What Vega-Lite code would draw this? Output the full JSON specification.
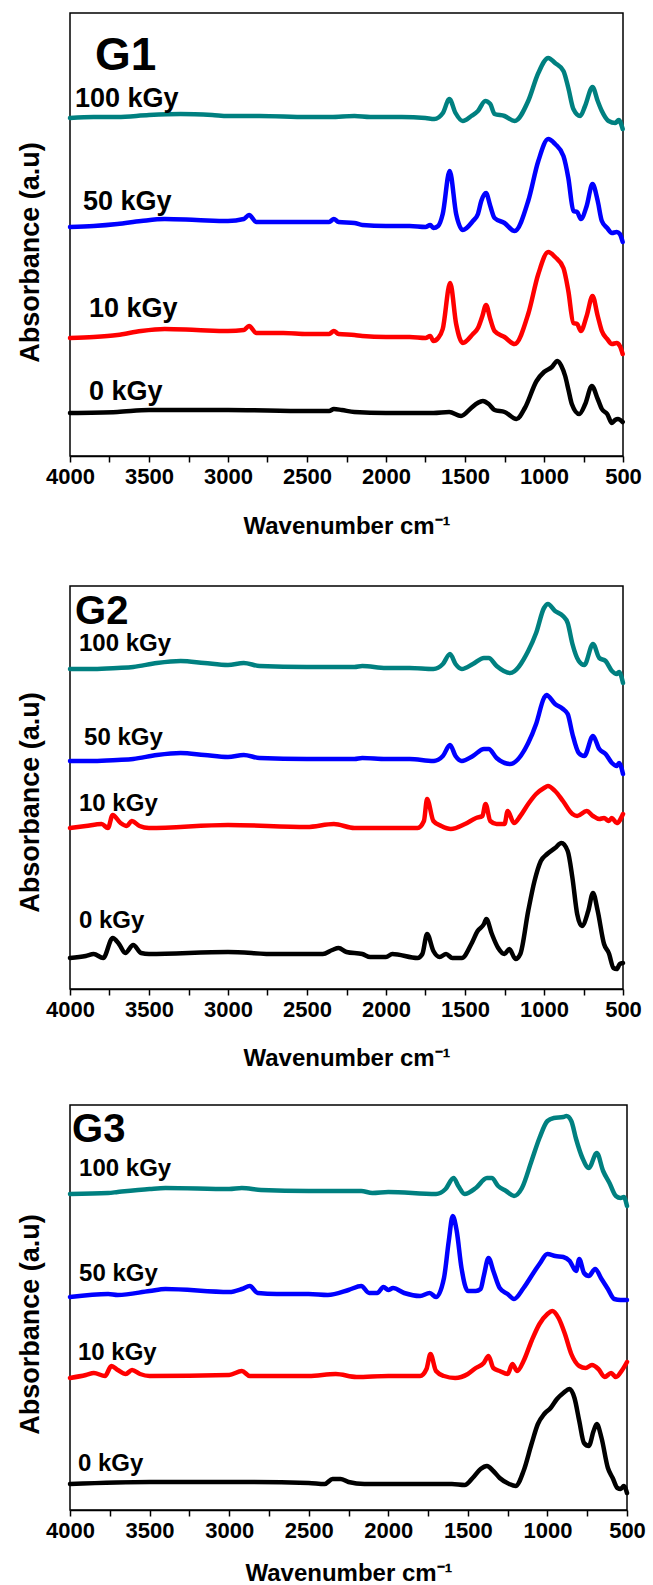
{
 "$schema": "https://vega.github.io/schema/vega-lite/v6.json",
 "padding": {"left": 15, "top": 12, "right": 5, "bottom": 0},
 "config": {
  "view": {"stroke": "black", "strokeWidth": 1.5},
  "font": "Liberation Sans",
  "axis": {"grid": false, "domainColor": "black", "tickColor": "black", "labelColor": "black", "titleColor": "black"}
 },
 "datasets": {
  "p1": [
   {"dose":"100 kGy","wn":4000,"abs":3.38},{"dose":"100 kGy","wn":3850,"abs":3.39},{"dose":"100 kGy","wn":3700,"abs":3.39},{"dose":"100 kGy","wn":3500,"abs":3.41},{"dose":"100 kGy","wn":3300,"abs":3.42},{"dose":"100 kGy","wn":3100,"abs":3.41},{"dose":"100 kGy","wn":3000,"abs":3.40},{"dose":"100 kGy","wn":2800,"abs":3.40},{"dose":"100 kGy","wn":2500,"abs":3.39},{"dose":"100 kGy","wn":2350,"abs":3.39},{"dose":"100 kGy","wn":2200,"abs":3.40},{"dose":"100 kGy","wn":2100,"abs":3.39},{"dose":"100 kGy","wn":2000,"abs":3.39},{"dose":"100 kGy","wn":1900,"abs":3.39},{"dose":"100 kGy","wn":1750,"abs":3.38},{"dose":"100 kGy","wn":1694,"abs":3.37},{"dose":"100 kGy","wn":1640,"abs":3.43},{"dose":"100 kGy","wn":1599,"abs":3.57},{"dose":"100 kGy","wn":1560,"abs":3.43},{"dose":"100 kGy","wn":1514,"abs":3.35},{"dose":"100 kGy","wn":1460,"abs":3.40},{"dose":"100 kGy","wn":1418,"abs":3.45},{"dose":"100 kGy","wn":1372,"abs":3.55},{"dose":"100 kGy","wn":1340,"abs":3.52},{"dose":"100 kGy","wn":1313,"abs":3.42},{"dose":"100 kGy","wn":1250,"abs":3.40},{"dose":"100 kGy","wn":1186,"abs":3.35},{"dose":"100 kGy","wn":1100,"abs":3.55},{"dose":"100 kGy","wn":1036,"abs":3.83},{"dose":"100 kGy","wn":973,"abs":3.98},{"dose":"100 kGy","wn":930,"abs":3.93},{"dose":"100 kGy","wn":877,"abs":3.85},{"dose":"100 kGy","wn":846,"abs":3.68},{"dose":"100 kGy","wn":814,"abs":3.47},{"dose":"100 kGy","wn":771,"abs":3.40},{"dose":"100 kGy","wn":740,"abs":3.50},{"dose":"100 kGy","wn":693,"abs":3.69},{"dose":"100 kGy","wn":660,"abs":3.55},{"dose":"100 kGy","wn":634,"abs":3.45},{"dose":"100 kGy","wn":591,"abs":3.35},{"dose":"100 kGy","wn":549,"abs":3.33},{"dose":"100 kGy","wn":527,"abs":3.36},{"dose":"100 kGy","wn":502,"abs":3.27},
   {"dose":"50 kGy","wn":4000,"abs":2.29},{"dose":"50 kGy","wn":3850,"abs":2.30},{"dose":"50 kGy","wn":3700,"abs":2.32},{"dose":"50 kGy","wn":3550,"abs":2.35},{"dose":"50 kGy","wn":3400,"abs":2.37},{"dose":"50 kGy","wn":3200,"abs":2.36},{"dose":"50 kGy","wn":3000,"abs":2.35},{"dose":"50 kGy","wn":2900,"abs":2.37},{"dose":"50 kGy","wn":2867,"abs":2.41},{"dose":"50 kGy","wn":2820,"abs":2.34},{"dose":"50 kGy","wn":2650,"abs":2.34},{"dose":"50 kGy","wn":2500,"abs":2.34},{"dose":"50 kGy","wn":2360,"abs":2.34},{"dose":"50 kGy","wn":2330,"abs":2.37},{"dose":"50 kGy","wn":2300,"abs":2.34},{"dose":"50 kGy","wn":2200,"abs":2.33},{"dose":"50 kGy","wn":2150,"abs":2.31},{"dose":"50 kGy","wn":2000,"abs":2.30},{"dose":"50 kGy","wn":1850,"abs":2.30},{"dose":"50 kGy","wn":1750,"abs":2.29},{"dose":"50 kGy","wn":1720,"abs":2.31},{"dose":"50 kGy","wn":1700,"abs":2.28},{"dose":"50 kGy","wn":1670,"abs":2.30},{"dose":"50 kGy","wn":1641,"abs":2.42},{"dose":"50 kGy","wn":1597,"abs":2.85},{"dose":"50 kGy","wn":1556,"abs":2.42},{"dose":"50 kGy","wn":1514,"abs":2.26},{"dose":"50 kGy","wn":1450,"abs":2.35},{"dose":"50 kGy","wn":1418,"abs":2.42},{"dose":"50 kGy","wn":1397,"abs":2.55},{"dose":"50 kGy","wn":1367,"abs":2.63},{"dose":"50 kGy","wn":1340,"abs":2.50},{"dose":"50 kGy","wn":1313,"abs":2.38},{"dose":"50 kGy","wn":1250,"abs":2.33},{"dose":"50 kGy","wn":1186,"abs":2.25},{"dose":"50 kGy","wn":1100,"abs":2.55},{"dose":"50 kGy","wn":1036,"abs":2.95},{"dose":"50 kGy","wn":973,"abs":3.17},{"dose":"50 kGy","wn":930,"abs":3.12},{"dose":"50 kGy","wn":877,"abs":3.00},{"dose":"50 kGy","wn":846,"abs":2.78},{"dose":"50 kGy","wn":814,"abs":2.45},{"dose":"50 kGy","wn":790,"abs":2.44},{"dose":"50 kGy","wn":767,"abs":2.37},{"dose":"50 kGy","wn":730,"abs":2.50},{"dose":"50 kGy","wn":693,"abs":2.72},{"dose":"50 kGy","wn":660,"abs":2.55},{"dose":"50 kGy","wn":634,"abs":2.35},{"dose":"50 kGy","wn":600,"abs":2.28},{"dose":"50 kGy","wn":570,"abs":2.23},{"dose":"50 kGy","wn":540,"abs":2.24},{"dose":"50 kGy","wn":520,"abs":2.22},{"dose":"50 kGy","wn":502,"abs":2.14},
   {"dose":"10 kGy","wn":4000,"abs":1.18},{"dose":"10 kGy","wn":3850,"abs":1.19},{"dose":"10 kGy","wn":3700,"abs":1.21},{"dose":"10 kGy","wn":3550,"abs":1.25},{"dose":"10 kGy","wn":3400,"abs":1.27},{"dose":"10 kGy","wn":3200,"abs":1.26},{"dose":"10 kGy","wn":3000,"abs":1.25},{"dose":"10 kGy","wn":2900,"abs":1.26},{"dose":"10 kGy","wn":2867,"abs":1.30},{"dose":"10 kGy","wn":2820,"abs":1.23},{"dose":"10 kGy","wn":2650,"abs":1.23},{"dose":"10 kGy","wn":2500,"abs":1.22},{"dose":"10 kGy","wn":2360,"abs":1.22},{"dose":"10 kGy","wn":2330,"abs":1.25},{"dose":"10 kGy","wn":2300,"abs":1.22},{"dose":"10 kGy","wn":2200,"abs":1.21},{"dose":"10 kGy","wn":2150,"abs":1.20},{"dose":"10 kGy","wn":2000,"abs":1.19},{"dose":"10 kGy","wn":1850,"abs":1.19},{"dose":"10 kGy","wn":1750,"abs":1.18},{"dose":"10 kGy","wn":1720,"abs":1.20},{"dose":"10 kGy","wn":1700,"abs":1.15},{"dose":"10 kGy","wn":1670,"abs":1.18},{"dose":"10 kGy","wn":1641,"abs":1.27},{"dose":"10 kGy","wn":1594,"abs":1.73},{"dose":"10 kGy","wn":1556,"abs":1.32},{"dose":"10 kGy","wn":1514,"abs":1.13},{"dose":"10 kGy","wn":1450,"abs":1.22},{"dose":"10 kGy","wn":1418,"abs":1.28},{"dose":"10 kGy","wn":1390,"abs":1.40},{"dose":"10 kGy","wn":1367,"abs":1.51},{"dose":"10 kGy","wn":1340,"abs":1.37},{"dose":"10 kGy","wn":1313,"abs":1.25},{"dose":"10 kGy","wn":1250,"abs":1.19},{"dose":"10 kGy","wn":1186,"abs":1.12},{"dose":"10 kGy","wn":1100,"abs":1.42},{"dose":"10 kGy","wn":1036,"abs":1.82},{"dose":"10 kGy","wn":973,"abs":2.04},{"dose":"10 kGy","wn":930,"abs":1.99},{"dose":"10 kGy","wn":877,"abs":1.88},{"dose":"10 kGy","wn":846,"abs":1.65},{"dose":"10 kGy","wn":814,"abs":1.33},{"dose":"10 kGy","wn":790,"abs":1.32},{"dose":"10 kGy","wn":767,"abs":1.25},{"dose":"10 kGy","wn":730,"abs":1.40},{"dose":"10 kGy","wn":693,"abs":1.60},{"dose":"10 kGy","wn":660,"abs":1.40},{"dose":"10 kGy","wn":634,"abs":1.25},{"dose":"10 kGy","wn":600,"abs":1.17},{"dose":"10 kGy","wn":570,"abs":1.12},{"dose":"10 kGy","wn":540,"abs":1.13},{"dose":"10 kGy","wn":520,"abs":1.10},{"dose":"10 kGy","wn":502,"abs":1.02},
   {"dose":"0 kGy","wn":4000,"abs":0.43},{"dose":"0 kGy","wn":3700,"abs":0.44},{"dose":"0 kGy","wn":3500,"abs":0.46},{"dose":"0 kGy","wn":3000,"abs":0.46},{"dose":"0 kGy","wn":2500,"abs":0.45},{"dose":"0 kGy","wn":2360,"abs":0.45},{"dose":"0 kGy","wn":2330,"abs":0.47},{"dose":"0 kGy","wn":2280,"abs":0.46},{"dose":"0 kGy","wn":2200,"abs":0.44},{"dose":"0 kGy","wn":2000,"abs":0.43},{"dose":"0 kGy","wn":1800,"abs":0.43},{"dose":"0 kGy","wn":1700,"abs":0.43},{"dose":"0 kGy","wn":1600,"abs":0.44},{"dose":"0 kGy","wn":1525,"abs":0.40},{"dose":"0 kGy","wn":1461,"abs":0.48},{"dose":"0 kGy","wn":1420,"abs":0.53},{"dose":"0 kGy","wn":1387,"abs":0.55},{"dose":"0 kGy","wn":1350,"abs":0.52},{"dose":"0 kGy","wn":1313,"abs":0.46},{"dose":"0 kGy","wn":1249,"abs":0.44},{"dose":"0 kGy","wn":1174,"abs":0.37},{"dose":"0 kGy","wn":1121,"abs":0.48},{"dose":"0 kGy","wn":1047,"abs":0.75},{"dose":"0 kGy","wn":1000,"abs":0.84},{"dose":"0 kGy","wn":950,"abs":0.89},{"dose":"0 kGy","wn":915,"abs":0.95},{"dose":"0 kGy","wn":890,"abs":0.90},{"dose":"0 kGy","wn":866,"abs":0.80},{"dose":"0 kGy","wn":845,"abs":0.66},{"dose":"0 kGy","wn":824,"abs":0.52},{"dose":"0 kGy","wn":777,"abs":0.42},{"dose":"0 kGy","wn":739,"abs":0.52},{"dose":"0 kGy","wn":697,"abs":0.70},{"dose":"0 kGy","wn":660,"abs":0.57},{"dose":"0 kGy","wn":634,"abs":0.47},{"dose":"0 kGy","wn":600,"abs":0.42},{"dose":"0 kGy","wn":570,"abs":0.33},{"dose":"0 kGy","wn":550,"abs":0.36},{"dose":"0 kGy","wn":532,"abs":0.37},{"dose":"0 kGy","wn":502,"abs":0.34}
  ],
  "p2": [
   {"dose":"100 kGy","wn":4000,"abs":3.20},{"dose":"100 kGy","wn":3850,"abs":3.20},{"dose":"100 kGy","wn":3700,"abs":3.21},{"dose":"100 kGy","wn":3600,"abs":3.22},{"dose":"100 kGy","wn":3450,"abs":3.26},{"dose":"100 kGy","wn":3300,"abs":3.28},{"dose":"100 kGy","wn":3150,"abs":3.26},{"dose":"100 kGy","wn":3000,"abs":3.24},{"dose":"100 kGy","wn":2900,"abs":3.26},{"dose":"100 kGy","wn":2800,"abs":3.23},{"dose":"100 kGy","wn":2500,"abs":3.22},{"dose":"100 kGy","wn":2200,"abs":3.22},{"dose":"100 kGy","wn":2150,"abs":3.23},{"dose":"100 kGy","wn":2000,"abs":3.21},{"dose":"100 kGy","wn":1850,"abs":3.21},{"dose":"100 kGy","wn":1700,"abs":3.20},{"dose":"100 kGy","wn":1640,"abs":3.25},{"dose":"100 kGy","wn":1595,"abs":3.35},{"dose":"100 kGy","wn":1560,"abs":3.25},{"dose":"100 kGy","wn":1520,"abs":3.20},{"dose":"100 kGy","wn":1450,"abs":3.25},{"dose":"100 kGy","wn":1380,"abs":3.31},{"dose":"100 kGy","wn":1350,"abs":3.31},{"dose":"100 kGy","wn":1300,"abs":3.23},{"dose":"100 kGy","wn":1215,"abs":3.16},{"dose":"100 kGy","wn":1100,"abs":3.38},{"dose":"100 kGy","wn":1050,"abs":3.56},{"dose":"100 kGy","wn":1000,"abs":3.81},{"dose":"100 kGy","wn":975,"abs":3.85},{"dose":"100 kGy","wn":930,"abs":3.78},{"dose":"100 kGy","wn":880,"abs":3.73},{"dose":"100 kGy","wn":850,"abs":3.66},{"dose":"100 kGy","wn":820,"abs":3.45},{"dose":"100 kGy","wn":780,"abs":3.28},{"dose":"100 kGy","wn":745,"abs":3.24},{"dose":"100 kGy","wn":690,"abs":3.45},{"dose":"100 kGy","wn":650,"abs":3.31},{"dose":"100 kGy","wn":610,"abs":3.28},{"dose":"100 kGy","wn":570,"abs":3.18},{"dose":"100 kGy","wn":540,"abs":3.15},{"dose":"100 kGy","wn":525,"abs":3.17},{"dose":"100 kGy","wn":500,"abs":3.06},
   {"dose":"50 kGy","wn":4000,"abs":2.28},{"dose":"50 kGy","wn":3850,"abs":2.28},{"dose":"50 kGy","wn":3700,"abs":2.29},{"dose":"50 kGy","wn":3600,"abs":2.30},{"dose":"50 kGy","wn":3450,"abs":2.34},{"dose":"50 kGy","wn":3300,"abs":2.36},{"dose":"50 kGy","wn":3150,"abs":2.34},{"dose":"50 kGy","wn":3000,"abs":2.32},{"dose":"50 kGy","wn":2900,"abs":2.34},{"dose":"50 kGy","wn":2800,"abs":2.31},{"dose":"50 kGy","wn":2500,"abs":2.30},{"dose":"50 kGy","wn":2200,"abs":2.30},{"dose":"50 kGy","wn":2150,"abs":2.31},{"dose":"50 kGy","wn":2000,"abs":2.30},{"dose":"50 kGy","wn":1850,"abs":2.30},{"dose":"50 kGy","wn":1700,"abs":2.28},{"dose":"50 kGy","wn":1640,"abs":2.33},{"dose":"50 kGy","wn":1595,"abs":2.44},{"dose":"50 kGy","wn":1560,"abs":2.33},{"dose":"50 kGy","wn":1520,"abs":2.28},{"dose":"50 kGy","wn":1450,"abs":2.33},{"dose":"50 kGy","wn":1380,"abs":2.40},{"dose":"50 kGy","wn":1350,"abs":2.40},{"dose":"50 kGy","wn":1300,"abs":2.31},{"dose":"50 kGy","wn":1215,"abs":2.25},{"dose":"50 kGy","wn":1100,"abs":2.46},{"dose":"50 kGy","wn":1050,"abs":2.65},{"dose":"50 kGy","wn":1000,"abs":2.91},{"dose":"50 kGy","wn":985,"abs":2.94},{"dose":"50 kGy","wn":930,"abs":2.85},{"dose":"50 kGy","wn":880,"abs":2.80},{"dose":"50 kGy","wn":850,"abs":2.75},{"dose":"50 kGy","wn":820,"abs":2.55},{"dose":"50 kGy","wn":780,"abs":2.36},{"dose":"50 kGy","wn":745,"abs":2.33},{"dose":"50 kGy","wn":690,"abs":2.53},{"dose":"50 kGy","wn":650,"abs":2.40},{"dose":"50 kGy","wn":610,"abs":2.35},{"dose":"50 kGy","wn":570,"abs":2.26},{"dose":"50 kGy","wn":540,"abs":2.23},{"dose":"50 kGy","wn":525,"abs":2.26},{"dose":"50 kGy","wn":500,"abs":2.15},
   {"dose":"10 kGy","wn":4000,"abs":1.61},{"dose":"10 kGy","wn":3900,"abs":1.63},{"dose":"10 kGy","wn":3800,"abs":1.65},{"dose":"10 kGy","wn":3760,"abs":1.61},{"dose":"10 kGy","wn":3730,"abs":1.74},{"dose":"10 kGy","wn":3680,"abs":1.66},{"dose":"10 kGy","wn":3640,"abs":1.63},{"dose":"10 kGy","wn":3610,"abs":1.68},{"dose":"10 kGy","wn":3560,"abs":1.63},{"dose":"10 kGy","wn":3500,"abs":1.61},{"dose":"10 kGy","wn":3000,"abs":1.64},{"dose":"10 kGy","wn":2500,"abs":1.62},{"dose":"10 kGy","wn":2330,"abs":1.65},{"dose":"10 kGy","wn":2200,"abs":1.61},{"dose":"10 kGy","wn":2000,"abs":1.61},{"dose":"10 kGy","wn":1800,"abs":1.61},{"dose":"10 kGy","wn":1760,"abs":1.68},{"dose":"10 kGy","wn":1740,"abs":1.90},{"dose":"10 kGy","wn":1700,"abs":1.68},{"dose":"10 kGy","wn":1650,"abs":1.63},{"dose":"10 kGy","wn":1590,"abs":1.60},{"dose":"10 kGy","wn":1500,"abs":1.65},{"dose":"10 kGy","wn":1430,"abs":1.71},{"dose":"10 kGy","wn":1390,"abs":1.73},{"dose":"10 kGy","wn":1370,"abs":1.85},{"dose":"10 kGy","wn":1340,"abs":1.68},{"dose":"10 kGy","wn":1300,"abs":1.65},{"dose":"10 kGy","wn":1250,"abs":1.65},{"dose":"10 kGy","wn":1230,"abs":1.78},{"dose":"10 kGy","wn":1190,"abs":1.66},{"dose":"10 kGy","wn":1150,"abs":1.73},{"dose":"10 kGy","wn":1100,"abs":1.85},{"dose":"10 kGy","wn":1050,"abs":1.95},{"dose":"10 kGy","wn":1000,"abs":2.01},{"dose":"10 kGy","wn":975,"abs":2.03},{"dose":"10 kGy","wn":930,"abs":1.98},{"dose":"10 kGy","wn":880,"abs":1.88},{"dose":"10 kGy","wn":820,"abs":1.75},{"dose":"10 kGy","wn":790,"abs":1.73},{"dose":"10 kGy","wn":730,"abs":1.78},{"dose":"10 kGy","wn":690,"abs":1.73},{"dose":"10 kGy","wn":650,"abs":1.70},{"dose":"10 kGy","wn":620,"abs":1.71},{"dose":"10 kGy","wn":590,"abs":1.68},{"dose":"10 kGy","wn":570,"abs":1.71},{"dose":"10 kGy","wn":540,"abs":1.66},{"dose":"10 kGy","wn":500,"abs":1.75},
   {"dose":"0 kGy","wn":4000,"abs":0.31},{"dose":"0 kGy","wn":3900,"abs":0.33},{"dose":"0 kGy","wn":3850,"abs":0.35},{"dose":"0 kGy","wn":3790,"abs":0.31},{"dose":"0 kGy","wn":3730,"abs":0.51},{"dose":"0 kGy","wn":3690,"abs":0.45},{"dose":"0 kGy","wn":3650,"abs":0.36},{"dose":"0 kGy","wn":3600,"abs":0.44},{"dose":"0 kGy","wn":3550,"abs":0.36},{"dose":"0 kGy","wn":3500,"abs":0.35},{"dose":"0 kGy","wn":3000,"abs":0.37},{"dose":"0 kGy","wn":2700,"abs":0.35},{"dose":"0 kGy","wn":2400,"abs":0.35},{"dose":"0 kGy","wn":2340,"abs":0.39},{"dose":"0 kGy","wn":2300,"abs":0.41},{"dose":"0 kGy","wn":2250,"abs":0.37},{"dose":"0 kGy","wn":2150,"abs":0.35},{"dose":"0 kGy","wn":2100,"abs":0.32},{"dose":"0 kGy","wn":2000,"abs":0.32},{"dose":"0 kGy","wn":1960,"abs":0.35},{"dose":"0 kGy","wn":1800,"abs":0.31},{"dose":"0 kGy","wn":1770,"abs":0.35},{"dose":"0 kGy","wn":1740,"abs":0.55},{"dose":"0 kGy","wn":1700,"abs":0.38},{"dose":"0 kGy","wn":1660,"abs":0.32},{"dose":"0 kGy","wn":1620,"abs":0.35},{"dose":"0 kGy","wn":1580,"abs":0.31},{"dose":"0 kGy","wn":1520,"abs":0.31},{"dose":"0 kGy","wn":1460,"abs":0.45},{"dose":"0 kGy","wn":1420,"abs":0.58},{"dose":"0 kGy","wn":1380,"abs":0.65},{"dose":"0 kGy","wn":1365,"abs":0.70},{"dose":"0 kGy","wn":1330,"abs":0.55},{"dose":"0 kGy","wn":1290,"abs":0.41},{"dose":"0 kGy","wn":1250,"abs":0.35},{"dose":"0 kGy","wn":1220,"abs":0.40},{"dose":"0 kGy","wn":1180,"abs":0.30},{"dose":"0 kGy","wn":1150,"abs":0.35},{"dose":"0 kGy","wn":1100,"abs":0.78},{"dose":"0 kGy","wn":1060,"abs":1.08},{"dose":"0 kGy","wn":1020,"abs":1.28},{"dose":"0 kGy","wn":980,"abs":1.35},{"dose":"0 kGy","wn":930,"abs":1.41},{"dose":"0 kGy","wn":890,"abs":1.46},{"dose":"0 kGy","wn":850,"abs":1.38},{"dose":"0 kGy","wn":820,"abs":1.11},{"dose":"0 kGy","wn":790,"abs":0.75},{"dose":"0 kGy","wn":760,"abs":0.63},{"dose":"0 kGy","wn":720,"abs":0.78},{"dose":"0 kGy","wn":690,"abs":0.96},{"dose":"0 kGy","wn":660,"abs":0.78},{"dose":"0 kGy","wn":620,"abs":0.45},{"dose":"0 kGy","wn":590,"abs":0.36},{"dose":"0 kGy","wn":560,"abs":0.21},{"dose":"0 kGy","wn":540,"abs":0.20},{"dose":"0 kGy","wn":520,"abs":0.25},{"dose":"0 kGy","wn":500,"abs":0.26}
  ],
  "p3": [
   {"dose":"100 kGy","wn":4000,"abs":3.16},{"dose":"100 kGy","wn":3760,"abs":3.17},{"dose":"100 kGy","wn":3700,"abs":3.18},{"dose":"100 kGy","wn":3500,"abs":3.21},{"dose":"100 kGy","wn":3400,"abs":3.22},{"dose":"100 kGy","wn":3000,"abs":3.21},{"dose":"100 kGy","wn":2920,"abs":3.22},{"dose":"100 kGy","wn":2800,"abs":3.20},{"dose":"100 kGy","wn":2500,"abs":3.19},{"dose":"100 kGy","wn":2350,"abs":3.19},{"dose":"100 kGy","wn":2170,"abs":3.19},{"dose":"100 kGy","wn":2100,"abs":3.17},{"dose":"100 kGy","wn":2000,"abs":3.18},{"dose":"100 kGy","wn":1700,"abs":3.16},{"dose":"100 kGy","wn":1640,"abs":3.21},{"dose":"100 kGy","wn":1590,"abs":3.32},{"dose":"100 kGy","wn":1560,"abs":3.24},{"dose":"100 kGy","wn":1520,"abs":3.16},{"dose":"100 kGy","wn":1450,"abs":3.22},{"dose":"100 kGy","wn":1380,"abs":3.32},{"dose":"100 kGy","wn":1350,"abs":3.32},{"dose":"100 kGy","wn":1310,"abs":3.24},{"dose":"100 kGy","wn":1260,"abs":3.19},{"dose":"100 kGy","wn":1210,"abs":3.14},{"dose":"100 kGy","wn":1160,"abs":3.22},{"dose":"100 kGy","wn":1100,"abs":3.49},{"dose":"100 kGy","wn":1050,"abs":3.72},{"dose":"100 kGy","wn":1000,"abs":3.89},{"dose":"100 kGy","wn":960,"abs":3.92},{"dose":"100 kGy","wn":900,"abs":3.93},{"dose":"100 kGy","wn":880,"abs":3.94},{"dose":"100 kGy","wn":850,"abs":3.89},{"dose":"100 kGy","wn":820,"abs":3.71},{"dose":"100 kGy","wn":780,"abs":3.52},{"dose":"100 kGy","wn":740,"abs":3.42},{"dose":"100 kGy","wn":690,"abs":3.57},{"dose":"100 kGy","wn":650,"abs":3.39},{"dose":"100 kGy","wn":610,"abs":3.27},{"dose":"100 kGy","wn":570,"abs":3.14},{"dose":"100 kGy","wn":540,"abs":3.12},{"dose":"100 kGy","wn":520,"abs":3.13},{"dose":"100 kGy","wn":500,"abs":3.04},
   {"dose":"50 kGy","wn":4000,"abs":2.13},{"dose":"50 kGy","wn":3760,"abs":2.16},{"dose":"50 kGy","wn":3700,"abs":2.15},{"dose":"50 kGy","wn":3500,"abs":2.19},{"dose":"50 kGy","wn":3400,"abs":2.21},{"dose":"50 kGy","wn":3000,"abs":2.18},{"dose":"50 kGy","wn":2920,"abs":2.21},{"dose":"50 kGy","wn":2870,"abs":2.24},{"dose":"50 kGy","wn":2820,"abs":2.17},{"dose":"50 kGy","wn":2700,"abs":2.16},{"dose":"50 kGy","wn":2500,"abs":2.16},{"dose":"50 kGy","wn":2380,"abs":2.15},{"dose":"50 kGy","wn":2250,"abs":2.20},{"dose":"50 kGy","wn":2170,"abs":2.24},{"dose":"50 kGy","wn":2120,"abs":2.17},{"dose":"50 kGy","wn":2070,"abs":2.17},{"dose":"50 kGy","wn":2030,"abs":2.23},{"dose":"50 kGy","wn":2000,"abs":2.20},{"dose":"50 kGy","wn":1970,"abs":2.22},{"dose":"50 kGy","wn":1900,"abs":2.17},{"dose":"50 kGy","wn":1800,"abs":2.14},{"dose":"50 kGy","wn":1740,"abs":2.17},{"dose":"50 kGy","wn":1700,"abs":2.13},{"dose":"50 kGy","wn":1650,"abs":2.32},{"dose":"50 kGy","wn":1620,"abs":2.69},{"dose":"50 kGy","wn":1595,"abs":2.94},{"dose":"50 kGy","wn":1570,"abs":2.79},{"dose":"50 kGy","wn":1540,"abs":2.42},{"dose":"50 kGy","wn":1500,"abs":2.19},{"dose":"50 kGy","wn":1450,"abs":2.19},{"dose":"50 kGy","wn":1420,"abs":2.21},{"dose":"50 kGy","wn":1400,"abs":2.34},{"dose":"50 kGy","wn":1370,"abs":2.52},{"dose":"50 kGy","wn":1340,"abs":2.39},{"dose":"50 kGy","wn":1300,"abs":2.22},{"dose":"50 kGy","wn":1250,"abs":2.16},{"dose":"50 kGy","wn":1210,"abs":2.11},{"dose":"50 kGy","wn":1150,"abs":2.22},{"dose":"50 kGy","wn":1080,"abs":2.39},{"dose":"50 kGy","wn":1050,"abs":2.46},{"dose":"50 kGy","wn":1000,"abs":2.56},{"dose":"50 kGy","wn":950,"abs":2.54},{"dose":"50 kGy","wn":900,"abs":2.53},{"dose":"50 kGy","wn":860,"abs":2.49},{"dose":"50 kGy","wn":820,"abs":2.39},{"dose":"50 kGy","wn":800,"abs":2.51},{"dose":"50 kGy","wn":770,"abs":2.37},{"dose":"50 kGy","wn":740,"abs":2.34},{"dose":"50 kGy","wn":700,"abs":2.41},{"dose":"50 kGy","wn":660,"abs":2.31},{"dose":"50 kGy","wn":620,"abs":2.21},{"dose":"50 kGy","wn":580,"abs":2.11},{"dose":"50 kGy","wn":540,"abs":2.10},{"dose":"50 kGy","wn":500,"abs":2.10},
   {"dose":"10 kGy","wn":4000,"abs":1.32},{"dose":"10 kGy","wn":3900,"abs":1.35},{"dose":"10 kGy","wn":3850,"abs":1.37},{"dose":"10 kGy","wn":3780,"abs":1.34},{"dose":"10 kGy","wn":3740,"abs":1.44},{"dose":"10 kGy","wn":3700,"abs":1.40},{"dose":"10 kGy","wn":3650,"abs":1.36},{"dose":"10 kGy","wn":3610,"abs":1.40},{"dose":"10 kGy","wn":3560,"abs":1.36},{"dose":"10 kGy","wn":3500,"abs":1.34},{"dose":"10 kGy","wn":3000,"abs":1.35},{"dose":"10 kGy","wn":2920,"abs":1.39},{"dose":"10 kGy","wn":2870,"abs":1.34},{"dose":"10 kGy","wn":2500,"abs":1.34},{"dose":"10 kGy","wn":2330,"abs":1.36},{"dose":"10 kGy","wn":2200,"abs":1.33},{"dose":"10 kGy","wn":2000,"abs":1.34},{"dose":"10 kGy","wn":1800,"abs":1.34},{"dose":"10 kGy","wn":1760,"abs":1.41},{"dose":"10 kGy","wn":1735,"abs":1.56},{"dose":"10 kGy","wn":1700,"abs":1.39},{"dose":"10 kGy","wn":1650,"abs":1.34},{"dose":"10 kGy","wn":1580,"abs":1.32},{"dose":"10 kGy","wn":1500,"abs":1.36},{"dose":"10 kGy","wn":1450,"abs":1.42},{"dose":"10 kGy","wn":1400,"abs":1.47},{"dose":"10 kGy","wn":1370,"abs":1.54},{"dose":"10 kGy","wn":1340,"abs":1.42},{"dose":"10 kGy","wn":1300,"abs":1.39},{"dose":"10 kGy","wn":1250,"abs":1.36},{"dose":"10 kGy","wn":1220,"abs":1.46},{"dose":"10 kGy","wn":1190,"abs":1.39},{"dose":"10 kGy","wn":1150,"abs":1.49},{"dose":"10 kGy","wn":1100,"abs":1.69},{"dose":"10 kGy","wn":1050,"abs":1.86},{"dose":"10 kGy","wn":1000,"abs":1.96},{"dose":"10 kGy","wn":970,"abs":1.99},{"dose":"10 kGy","wn":930,"abs":1.92},{"dose":"10 kGy","wn":890,"abs":1.76},{"dose":"10 kGy","wn":850,"abs":1.56},{"dose":"10 kGy","wn":800,"abs":1.44},{"dose":"10 kGy","wn":760,"abs":1.42},{"dose":"10 kGy","wn":720,"abs":1.45},{"dose":"10 kGy","wn":680,"abs":1.41},{"dose":"10 kGy","wn":640,"abs":1.33},{"dose":"10 kGy","wn":600,"abs":1.37},{"dose":"10 kGy","wn":570,"abs":1.33},{"dose":"10 kGy","wn":530,"abs":1.40},{"dose":"10 kGy","wn":500,"abs":1.48},
   {"dose":"0 kGy","wn":4000,"abs":0.26},{"dose":"0 kGy","wn":3500,"abs":0.28},{"dose":"0 kGy","wn":3000,"abs":0.28},{"dose":"0 kGy","wn":2500,"abs":0.27},{"dose":"0 kGy","wn":2400,"abs":0.26},{"dose":"0 kGy","wn":2350,"abs":0.31},{"dose":"0 kGy","wn":2300,"abs":0.31},{"dose":"0 kGy","wn":2250,"abs":0.28},{"dose":"0 kGy","wn":2150,"abs":0.26},{"dose":"0 kGy","wn":2000,"abs":0.26},{"dose":"0 kGy","wn":1600,"abs":0.26},{"dose":"0 kGy","wn":1520,"abs":0.25},{"dose":"0 kGy","wn":1470,"abs":0.32},{"dose":"0 kGy","wn":1420,"abs":0.41},{"dose":"0 kGy","wn":1380,"abs":0.44},{"dose":"0 kGy","wn":1340,"abs":0.39},{"dose":"0 kGy","wn":1300,"abs":0.32},{"dose":"0 kGy","wn":1240,"abs":0.26},{"dose":"0 kGy","wn":1200,"abs":0.24},{"dose":"0 kGy","wn":1150,"abs":0.39},{"dose":"0 kGy","wn":1100,"abs":0.66},{"dose":"0 kGy","wn":1060,"abs":0.86},{"dose":"0 kGy","wn":1020,"abs":0.96},{"dose":"0 kGy","wn":980,"abs":1.02},{"dose":"0 kGy","wn":940,"abs":1.11},{"dose":"0 kGy","wn":900,"abs":1.17},{"dose":"0 kGy","wn":860,"abs":1.21},{"dose":"0 kGy","wn":830,"abs":1.12},{"dose":"0 kGy","wn":800,"abs":0.89},{"dose":"0 kGy","wn":770,"abs":0.67},{"dose":"0 kGy","wn":740,"abs":0.64},{"dose":"0 kGy","wn":710,"abs":0.79},{"dose":"0 kGy","wn":690,"abs":0.86},{"dose":"0 kGy","wn":660,"abs":0.72},{"dose":"0 kGy","wn":620,"abs":0.42},{"dose":"0 kGy","wn":590,"abs":0.32},{"dose":"0 kGy","wn":560,"abs":0.22},{"dose":"0 kGy","wn":540,"abs":0.21},{"dose":"0 kGy","wn":520,"abs":0.24},{"dose":"0 kGy","wn":500,"abs":0.17}
  ],
  "l1": [{"label":"100 kGy","wn":3968,"abs":3.57},{"label":"50 kGy","wn":3918,"abs":2.54},{"label":"10 kGy","wn":3880,"abs":1.47},{"label":"0 kGy","wn":3880,"abs":0.64}],
  "l2": [{"label":"100 kGy","wn":3943,"abs":3.45},{"label":"50 kGy","wn":3911,"abs":2.51},{"label":"10 kGy","wn":3943,"abs":1.85},{"label":"0 kGy","wn":3943,"abs":0.68}],
  "l3": [{"label":"100 kGy","wn":3943,"abs":3.41},{"label":"50 kGy","wn":3943,"abs":2.36},{"label":"10 kGy","wn":3950,"abs":1.57},{"label":"0 kGy","wn":3950,"abs":0.46}],
  "g1": [{"label":"G1","wn":3842,"abs":4.00}],
  "g2": [{"label":"G2","wn":3968,"abs":3.77}],
  "g3": [{"label":"G3","wn":3987,"abs":3.80}]
 },
 "spacing": 130,
 "bounds": "flush",
 "vconcat": [
  {
   "width": 553, "height": 443,
   "encoding": {
    "x": {"field": "wn", "type": "quantitative", "scale": {"domain": [500, 4000], "reverse": true, "nice": false, "zero": false},
      "axis": {"values": [4000,3750,3500,3250,3000,2750,2500,2250,2000,1750,1500,1250,1000,750,500], "labelExpr": "datum.value % 500 === 0 ? datum.label : ''", "format": "d", "tickSize": 6, "tickWidth": 1.5, "domainWidth": 1.5, "labelFont": "Liberation Sans", "labelFontSize": 22, "labelFontWeight": "bold", "labelPadding": 4, "labelOverlap": false, "labelFlush": false, "labelBound": false, "title": "Wavenumber cm⁻¹", "titleFont": "Liberation Sans", "titleFontSize": 24, "titleFontWeight": "bold", "titlePadding": 27}},
    "y": {"field": "abs", "type": "quantitative", "scale": {"domain": [0, 4.43], "nice": false, "zero": false},
      "axis": {"title": "Absorbance (a.u)", "labels": false, "ticks": false, "domain": false, "titleFontSize": 27, "titleFontWeight": "bold", "titleX": -40, "titleY": 239, "titleBaseline": "middle", "titleAlign": "center", "titleAngle": -90}}
   },
   "layer": [
    {"data": {"name": "p1"}, "mark": {"type": "line", "interpolate": "monotone", "strokeWidth": 4.5, "strokeCap": "round", "strokeJoin": "round"},
     "encoding": {"color": {"field": "dose", "type": "nominal", "scale": {"domain": ["0 kGy","10 kGy","50 kGy","100 kGy"], "range": ["#000000","#ff0000","#0000ff","#008080"]}, "legend": null}}},
    {"data": {"name": "l1"}, "mark": {"type": "text", "align": "left", "baseline": "middle", "fontSize": 27, "fontWeight": "bold", "color": "black"},
     "encoding": {"text": {"field": "label"}}},
    {"data": {"name": "g1"}, "mark": {"type": "text", "align": "left", "baseline": "middle", "fontSize": 46, "fontWeight": "bold", "color": "black"},
     "encoding": {"text": {"field": "label"}}}
   ]
  },
  {
   "spacing": 116,
   "bounds": "flush",
   "vconcat": [
    {
     "width": 553, "height": 403,
     "encoding": {
      "x": {"field": "wn", "type": "quantitative", "scale": {"domain": [500, 4000], "reverse": true, "nice": false, "zero": false},
        "axis": {"values": [4000,3750,3500,3250,3000,2750,2500,2250,2000,1750,1500,1250,1000,750,500], "labelExpr": "datum.value % 500 === 0 ? datum.label : ''", "format": "d", "tickSize": 6, "tickWidth": 1.5, "domainWidth": 1.5, "labelFont": "Liberation Sans", "labelFontSize": 22, "labelFontWeight": "bold", "labelPadding": 4, "labelOverlap": false, "labelFlush": false, "labelBound": false, "title": "Wavenumber cm⁻¹", "titleFont": "Liberation Sans", "titleFontSize": 24, "titleFontWeight": "bold", "titlePadding": 26}},
      "y": {"field": "abs", "type": "quantitative", "scale": {"domain": [0, 4.03], "nice": false, "zero": false},
        "axis": {"title": "Absorbance (a.u)", "labels": false, "ticks": false, "domain": false, "titleFontSize": 27, "titleFontWeight": "bold", "titleX": -40, "titleY": 216, "titleBaseline": "middle", "titleAlign": "center", "titleAngle": -90}}
     },
     "layer": [
      {"data": {"name": "p2"}, "mark": {"type": "line", "interpolate": "monotone", "strokeWidth": 4.5, "strokeCap": "round", "strokeJoin": "round"},
       "encoding": {"color": {"field": "dose", "type": "nominal", "scale": {"domain": ["0 kGy","10 kGy","50 kGy","100 kGy"], "range": ["#000000","#ff0000","#0000ff","#008080"]}, "legend": null}}},
      {"data": {"name": "l2"}, "mark": {"type": "text", "align": "left", "baseline": "middle", "fontSize": 24, "fontWeight": "bold", "color": "black"},
       "encoding": {"text": {"field": "label"}}},
      {"data": {"name": "g2"}, "mark": {"type": "text", "align": "left", "baseline": "middle", "fontSize": 40, "fontWeight": "bold", "color": "black"},
       "encoding": {"text": {"field": "label"}}}
     ]
    },
    {
     "width": 557, "height": 405,
     "encoding": {
      "x": {"field": "wn", "type": "quantitative", "scale": {"domain": [500, 4000], "reverse": true, "nice": false, "zero": false},
        "axis": {"values": [4000,3750,3500,3250,3000,2750,2500,2250,2000,1750,1500,1250,1000,750,500], "labelExpr": "datum.value % 500 === 0 ? datum.label : ''", "format": "d", "tickSize": 6, "tickWidth": 1.5, "domainWidth": 1.5, "labelFont": "Liberation Sans", "labelFontSize": 22, "labelFontWeight": "bold", "labelPadding": 4, "labelOverlap": false, "labelFlush": false, "labelBound": false, "title": "Wavenumber cm⁻¹", "titleFont": "Liberation Sans", "titleFontSize": 24, "titleFontWeight": "bold", "titlePadding": 20}},
      "y": {"field": "abs", "type": "quantitative", "scale": {"domain": [0, 4.05], "nice": false, "zero": false},
        "axis": {"title": "Absorbance (a.u)", "labels": false, "ticks": false, "domain": false, "titleFontSize": 27, "titleFontWeight": "bold", "titleX": -40, "titleY": 219, "titleBaseline": "middle", "titleAlign": "center", "titleAngle": -90}}
     },
     "layer": [
      {"data": {"name": "p3"}, "mark": {"type": "line", "interpolate": "monotone", "strokeWidth": 4.5, "strokeCap": "round", "strokeJoin": "round"},
       "encoding": {"color": {"field": "dose", "type": "nominal", "scale": {"domain": ["0 kGy","10 kGy","50 kGy","100 kGy"], "range": ["#000000","#ff0000","#0000ff","#008080"]}, "legend": null}}},
      {"data": {"name": "l3"}, "mark": {"type": "text", "align": "left", "baseline": "middle", "fontSize": 24, "fontWeight": "bold", "color": "black"},
       "encoding": {"text": {"field": "label"}}},
      {"data": {"name": "g3"}, "mark": {"type": "text", "align": "left", "baseline": "middle", "fontSize": 40, "fontWeight": "bold", "color": "black"},
       "encoding": {"text": {"field": "label"}}}
     ]
    }
   ]
  }
 ]
}
